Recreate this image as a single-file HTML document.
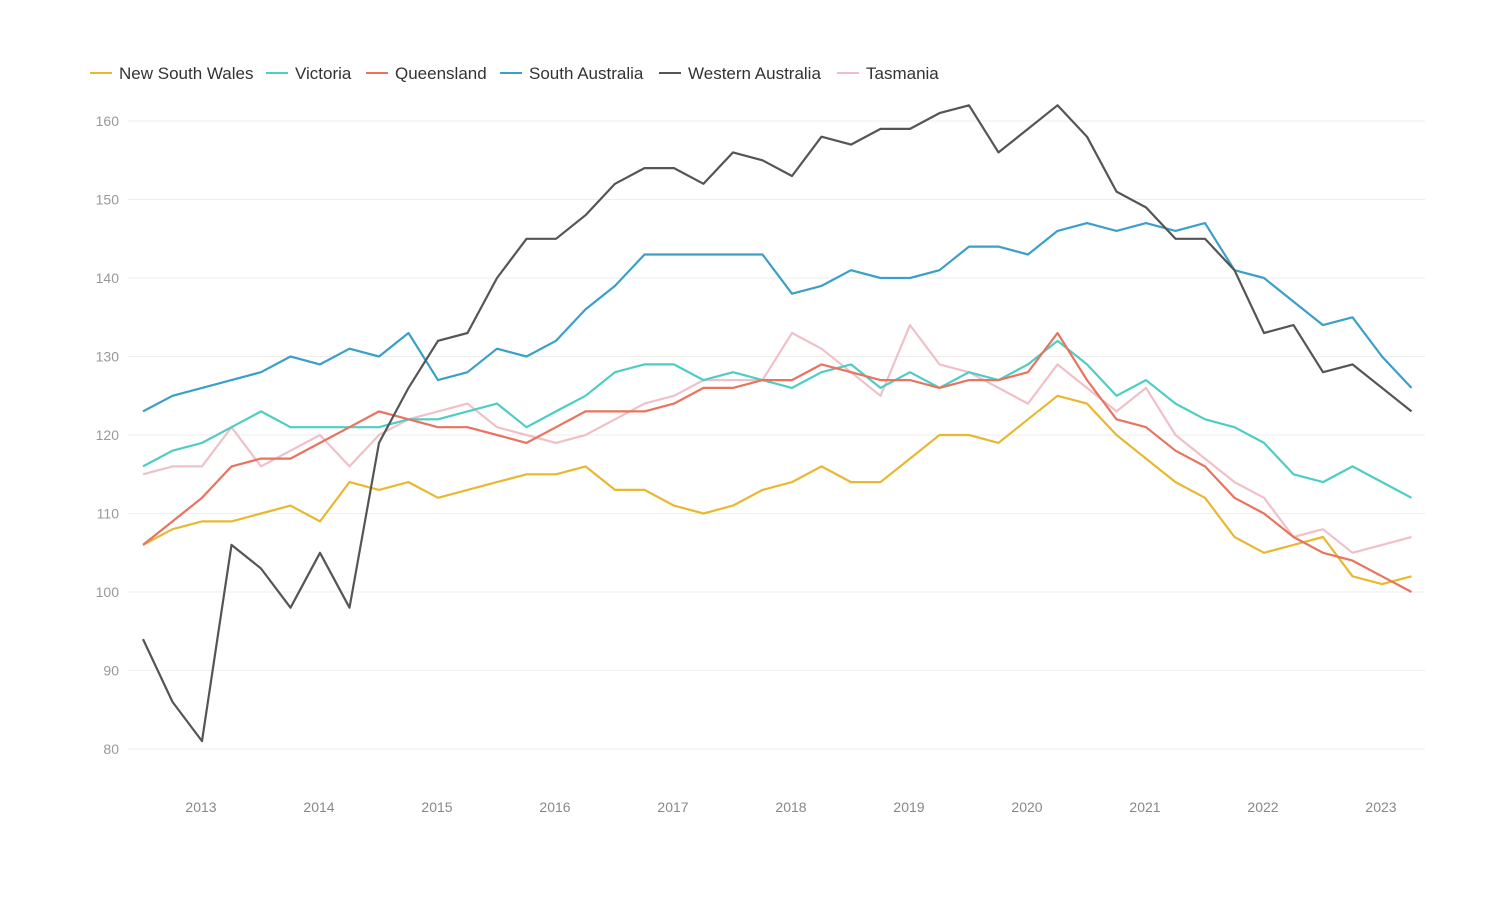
<!DOCTYPE html>
<html><head><meta charset="utf-8">
<style>
body{margin:0;background:#fff;}
svg{display:block;font-family:"Liberation Sans",sans-serif;}
</style></head>
<body>
<svg id="c" width="1500" height="900" viewBox="0 0 1500 900">
<g font-size="17" fill="#333">
<line x1="90" y1="73" x2="112" y2="73" stroke="#e8b830" stroke-width="2"/><text x="119" y="79">New South Wales</text>
<line x1="266" y1="73" x2="288" y2="73" stroke="#4ecdc4" stroke-width="2"/><text x="295" y="79">Victoria</text>
<line x1="366" y1="73" x2="388" y2="73" stroke="#e8735f" stroke-width="2"/><text x="395" y="79">Queensland</text>
<line x1="500" y1="73" x2="522" y2="73" stroke="#3aa0c8" stroke-width="2"/><text x="529" y="79">South Australia</text>
<line x1="659" y1="73" x2="681" y2="73" stroke="#555" stroke-width="2"/><text x="688" y="79">Western Australia</text>
<line x1="837" y1="73" x2="859" y2="73" stroke="#f0c0c8" stroke-width="2"/><text x="866" y="79">Tasmania</text>
</g>
<g id="grid" stroke="#eeeeee" stroke-width="1"></g>
<g id="yl" font-size="14" fill="#999" text-anchor="end"></g>
<g font-size="14" fill="#888" text-anchor="middle">
<text x="201" y="812">2013</text><text x="319" y="812">2014</text><text x="437" y="812">2015</text><text x="555" y="812">2016</text><text x="673" y="812">2017</text><text x="791" y="812">2018</text><text x="909" y="812">2019</text><text x="1027" y="812">2020</text><text x="1145" y="812">2021</text><text x="1263" y="812">2022</text><text x="1381" y="812">2023</text>
</g>
<g id="lines" fill="none" stroke-width="2.2" stroke-linejoin="round"></g>
</svg>
<script>
var ns="http://www.w3.org/2000/svg";
function Y(v){return 749-(v-80)*7.85;}
var g=document.getElementById('grid'),yl=document.getElementById('yl');
for(var v=80;v<=160;v+=10){var l=document.createElementNS(ns,'line');l.setAttribute('x1',128);l.setAttribute('x2',1425);l.setAttribute('y1',Y(v));l.setAttribute('y2',Y(v));g.appendChild(l);
var t=document.createElementNS(ns,'text');t.setAttribute('x',119);t.setAttribute('y',Y(v)+5);t.textContent=v;yl.appendChild(t);}
var S=[
["#f0c0c8",[115,116,116,121,116,118,120,116,120,122,123,124,121,120,119,120,122,124,125,127,127,127,133,131,128,125,134,129,128,126,124,129,126,123,126,120,117,114,112,107,108,105,106,107]],
["#e8b830",[106,108,109,109,110,111,109,114,113,114,112,113,114,115,115,116,113,113,111,110,111,113,114,116,114,114,117,120,120,119,122,125,124,120,117,114,112,107,105,106,107,102,101,102]],
["#4ecdc4",[116,118,119,121,123,121,121,121,121,122,122,123,124,121,123,125,128,129,129,127,128,127,126,128,129,126,128,126,128,127,129,132,129,125,127,124,122,121,119,115,114,116,114,112]],
["#e8735f",[106,109,112,116,117,117,119,121,123,122,121,121,120,119,121,123,123,123,124,126,126,127,127,129,128,127,127,126,127,127,128,133,127,122,121,118,116,112,110,107,105,104,102,100]],
["#3aa0c8",[123,125,126,127,128,130,129,131,130,133,127,128,131,130,132,136,139,143,143,143,143,143,138,139,141,140,140,141,144,144,143,146,147,146,147,146,147,141,140,137,134,135,130,126]],
["#555555",[94,86,81,106,103,98,105,98,119,126,132,133,140,145,145,148,152,154,154,152,156,155,153,158,157,159,159,161,162,156,159,162,158,151,149,145,145,141,133,134,128,129,126,123]]
];
var L=document.getElementById('lines');
S.forEach(function(s){var p=s[1].map(function(v,i){return (143+29.5*i).toFixed(1)+','+Y(v).toFixed(1);}).join(' ');
var pl=document.createElementNS(ns,'polyline');pl.setAttribute('points',p);pl.setAttribute('stroke',s[0]);L.appendChild(pl);});
</script>
</body></html>
